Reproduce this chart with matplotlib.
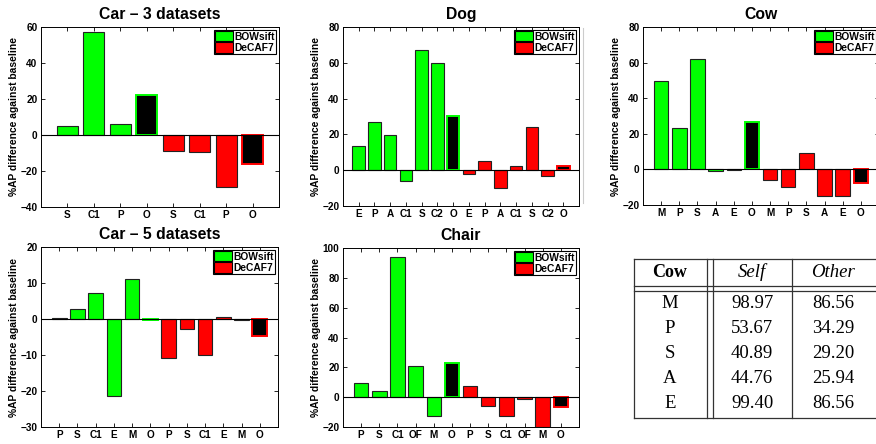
import matplotlib
matplotlib.use("Agg")
import matplotlib.pyplot as plt
from matplotlib.patches import Patch

plt.rcParams['font.family'] = ['Liberation Sans', 'DejaVu Sans']
plt.rcParams['font.weight'] = 'bold'

GREEN = '#00ff00'
RED = '#ff0000'

# values
car3_labels = ['S', 'C1', 'P', 'O', 'S', 'C1', 'P', 'O']
car3_bow = [5.0, 57.0, 6.2, 22.4]
car3_decaf = [-9.0, -9.7, -29.1, -15.9]

dog_labels = ['E', 'P', 'A', 'C1', 'S', 'C2', 'O', 'E', 'P', 'A', 'C1', 'S', 'C2', 'O']
dog_bow = [13.6, 26.7, 19.8, -6.0, 67.0, 59.9, 30.0]
dog_decaf = [-2.2, 4.9, -10.0, 2.2, 24.4, -3.0, 2.6]

cow_labels = ['M', 'P', 'S', 'A', 'E', 'O', 'M', 'P', 'S', 'A', 'E', 'O']
cow_bow = [49.4, 23.4, 61.8, -0.9, -0.3, 26.8]
cow_decaf = [-6.2, -10.1, 9.0, -15.0, -15.0, -7.5]

car5_labels = ['P', 'S', 'C1', 'E', 'M', 'O', 'P', 'S', 'C1', 'E', 'M', 'O']
car5_bow = [0.3, 2.7, 7.2, -21.5, 11.0, -0.3]
car5_decaf = [-10.8, -2.7, -10.1, 0.6, -0.4, -4.6]

chair_labels = ['P', 'S', 'C1', 'OF', 'M', 'O', 'P', 'S', 'C1', 'OF', 'M', 'O']
chair_bow = [9.2, 4.3, 94.2, 20.8, -12.3, 23.0]
chair_decaf = [7.2, -6.0, -12.8, -1.1, -19.7, -6.3]

table_header = ['Cow', 'Self', 'Other']
table_rows = ['M', 'P', 'S', 'A', 'E']
table_self = ['98.97', '53.67', '40.89', '44.76', '99.40']
table_other = ['86.56', '34.29', '29.20', '25.94', '86.56']

W, H = 876, 444
fig = plt.figure(figsize=(W / 100, H / 100), dpi=100)


def px_axes(left, top, right, bottom):
    return fig.add_axes([left / W, (H - bottom) / H, (right - left) / W, (bottom - top) / H])


def draw(rect, title, labels, bow, decaf, ylim, ystep):
    ax = px_axes(*rect)
    n = len(labels)
    xs = list(range(1, n + 1))
    vals = bow + decaf
    # last bar of each group is the "O" bar: black fill, coloured edge
    faces = [GREEN] * (len(bow) - 1) + ['black'] + [RED] * (len(decaf) - 1) + ['black']
    edges = ['#222222'] * (len(bow) - 1) + [GREEN] + ['#222222'] * (len(decaf) - 1) + [RED]
    lws = [0.8] * (len(bow) - 1) + [1.4] + [0.8] * (len(decaf) - 1) + [1.4]
    ax.bar(xs, vals, width=0.8, color=faces, edgecolor=edges, linewidth=lws, zorder=2)
    ax.axhline(0, color='black', lw=0.8, zorder=3)
    ax.set_xlim(0, n + 1)
    ax.set_ylim(*ylim)
    ax.set_yticks(range(ylim[0], ylim[1] + 1, ystep))
    ax.set_xticks(xs)
    ax.set_xticklabels(labels)
    ax.tick_params(direction='in', top=True, right=True, labelsize=7.2, length=3, width=0.6, pad=2.5)
    for s in ax.spines.values():
        s.set_linewidth(0.7)
    ax.set_title(title, fontsize=11.3, fontweight='bold', pad=6)
    ax.set_ylabel('%AP difference against baseline', fontsize=7.4, fontweight='bold', labelpad=1)
    handles = [Patch(facecolor=GREEN, edgecolor='black', lw=0.8),
               Patch(facecolor=RED, edgecolor='black', lw=0.8)]
    leg = ax.legend(handles, ['BOWsift', 'DeCAF7'], loc='upper right',
                    prop={'weight': 'bold', 'size': 7.4}, fancybox=False, framealpha=1,
                    edgecolor='black', borderaxespad=0.25, borderpad=0.12, handlelength=1.7,
                    handleheight=1.2, labelspacing=0.05, handletextpad=0.2)
    leg.get_frame().set_linewidth(0.8)
    return ax


draw((41, 27, 279, 207), 'Car \u2013 3 datasets', car3_labels, car3_bow, car3_decaf, (-40, 60), 20)
draw((343, 27, 579, 206), 'Dog', dog_labels, dog_bow, dog_decaf, (-20, 80), 20)
draw((643, 27, 879, 205), 'Cow', cow_labels, cow_bow, cow_decaf, (-20, 80), 20)
draw((41, 247, 278, 427), 'Car \u2013 5 datasets', car5_labels, car5_bow, car5_decaf, (-30, 20), 10)
draw((343, 248, 579, 427), 'Chair', chair_labels, chair_bow, chair_decaf, (-20, 100), 20)

# table drawn in pixel coordinates
tb = fig.add_axes([0, 0, 1, 1], zorder=5)
tb.set_xlim(0, W)
tb.set_ylim(H, 0)
tb.axis('off')
tb.patch.set_alpha(0)

lc = '#333333'
x_left, x_d1, x_d2, x_mid, x_right = 634, 707, 713, 792, 890
y_top, y_h1, y_h2, y_bot = 259, 286, 291, 418
for y in (y_top, y_h1, y_h2, y_bot):
    tb.plot([x_left, x_right], [y, y], color=lc, lw=0.9, clip_on=False)
for x in (x_left, x_d1, x_d2, x_mid):
    tb.plot([x, x], [y_top, y_bot], color=lc, lw=0.9)

# faint border left of the cow chart
tb.plot([583, 583], [28, 203], color='#cccccc', lw=0.8)

serif = ['Liberation Serif', 'DejaVu Serif']
cx = [670, 752, 833]
tb.text(cx[0], 272, table_header[0], family=serif, fontweight='bold', fontsize=13,
        ha='center', va='center')
for i in (1, 2):
    tb.text(cx[i], 272, table_header[i], family=serif, fontstyle='italic',
            fontweight='normal', fontsize=13.5, ha='center', va='center')
for r, (lab, s, o) in enumerate(zip(table_rows, table_self, table_other)):
    y = 303 + 25 * r
    for x, t in zip(cx, (lab, s, o)):
        tb.text(x, y, t, family=serif, fontweight='normal', fontsize=13.5, ha='center', va='center')

fig.savefig('out.png', dpi=100)
